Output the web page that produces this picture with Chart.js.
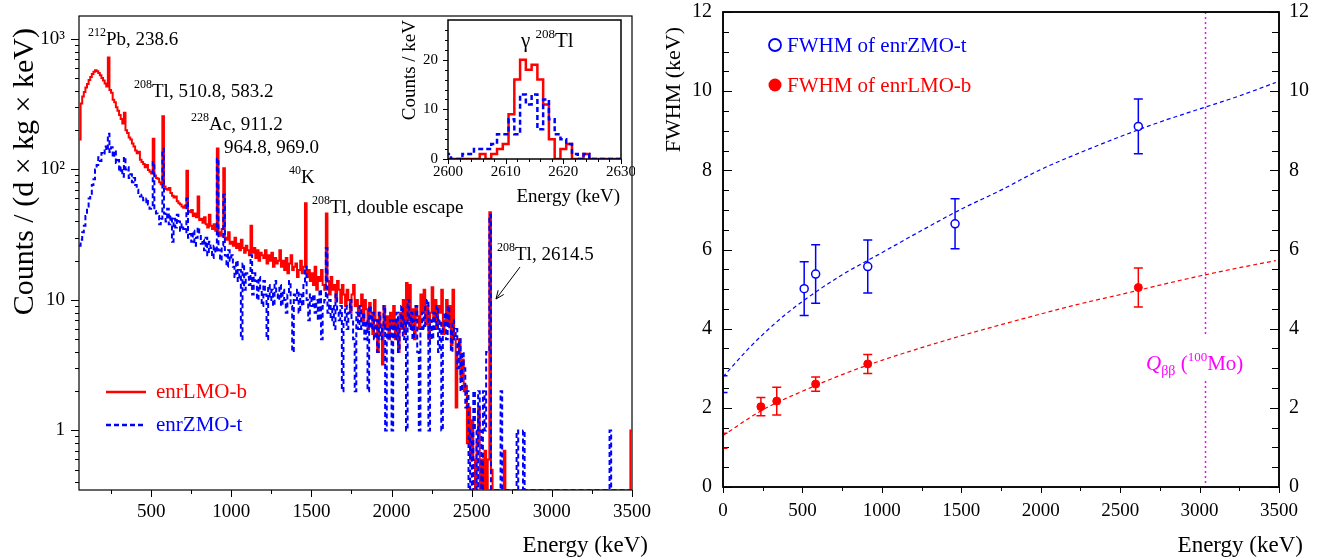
<!DOCTYPE html>
<html>
<head>
<meta charset="utf-8">
<title>Background spectra and FWHM</title>
<script src="https://cdn.jsdelivr.net/npm/chart.js@4.4.1/dist/chart.umd.min.js"></script>
<style>
  html, body { margin:0; padding:0; background:#fff; }
  #stage { position:relative; width:1318px; height:558px; background:#fff; overflow:hidden; }
  #stage canvas { position:absolute; }
</style>
</head>
<body>
<div id="stage">
  <canvas id="spec" width="660" height="558" style="left:0;top:0"></canvas>
  <canvas id="fwhm" width="658" height="558" style="left:660px;top:0"></canvas>
  <canvas id="inset" width="240" height="215" style="left:395px;top:0"></canvas>
</div>
<script>
// ---------------- DATA ----------------
// Left panel: background spectra, 10 keV bins starting at 50 keV (counts/(d x kg x keV))
const specBinStart = 50;
const specBinWidth = 10;
const lmoRate = [
  170, 320, 362, 392, 424,
  452, 484, 512, 538, 560, 575, 566, 548, 528, 503,
  480, 456, 432, 720, 406, 388, 342, 328, 300, 282,
  262, 244, 225, 272, 200, 190, 176, 170, 158, 150,
  140, 133, 137, 119, 114, 110, 104, 108, 99, 96,
  93, 172, 90, 86, 85, 80, 77, 256, 74, 71,
  70, 72, 66, 63, 61, 62, 57, 55, 54, 52,
  51, 53, 98, 48, 47, 49, 44, 46, 43, 62,
  41, 42, 39, 43, 38, 36, 45, 37, 35, 38,
  34, 145, 33, 31, 35, 102, 30, 29, 33, 27,
  28, 26, 30, 25, 27, 24, 29, 25, 23, 26,
  24, 22, 37, 23, 25, 21, 24, 20, 23, 22,
  21, 24, 19, 22, 20, 23, 18, 21, 19, 20,
  24, 18, 20, 17, 21, 16, 19, 22, 17, 18,
  19, 15, 17, 20, 16, 18, 55, 15, 17, 14,
  16, 13, 18, 12, 15, 14, 17, 13, 12, 46,
  14, 11, 15, 12, 13, 10, 14, 12, 9.5, 13,
  11, 9, 12, 10, 8, 11, 13, 9, 10, 7.5,
  9, 11, 7, 10, 8.5, 6, 9.5, 8, 5.5, 10,
  7, 4, 8, 6.5, 3.2, 9, 6, 7.5, 5, 8,
  6.5, 9, 5, 7, 4, 8, 6, 10, 5.5, 13.5,
  7, 13, 6, 8.5, 5, 9, 7.5, 6, 11, 8,
  12, 6.5, 9, 5, 8, 12.5, 7, 10, 6, 9,
  8, 12, 5.5, 7, 10, 6.5, 9, 4.5, 12, 5,
  1.5, 4, 5, 2.5, 3.5, 2, 2.2, 0.8, 1.5, 0.6,
  1.2, 0.6, 0, 0.8, 1.5, 0, 0.6, 0, 0.7, 0,
  0.6, 47, 0.5, 0, 0, 0, 0, 0, 0, 0,
  0.7, 0, 0, 0, 0, 0, 0, 0, 0, 0,
  0, 0, 0, 0, 0, 0, 0, 0, 0, 0,
  0, 0, 0, 0, 0, 0, 0, 0, 0, 0,
  0, 0, 0, 0, 0, 0, 0, 0, 0, 0,
  0, 0, 0, 0, 0, 0, 0, 0, 0, 0,
  0, 0, 0, 0, 0, 0, 0, 0, 0, 0,
  0, 0, 0, 0, 0, 0, 0, 0, 0, 0,
  0, 0, 0, 0, 0, 0, 0, 0, 0, 1
];
const zmoRate = [
  26, 29, 33, 37, 44,
  52, 60, 64, 76, 84, 100, 108, 124, 116, 134,
  130, 150, 140, 188, 136, 148, 124, 140, 112, 118,
  96, 104, 88, 125, 100, 104, 86, 92, 80, 86,
  76, 70, 66, 62, 64, 58, 56, 60, 54, 50,
  52, 114, 48, 46, 44, 38, 42, 144, 46, 40,
  50, 38, 44, 28, 42, 36, 45, 40, 34, 38,
  35, 33, 60, 30, 32, 28, 34, 26, 30, 36,
  32, 27, 29, 24, 30, 22, 28, 25, 21, 26,
  23, 121, 24, 20, 26, 64, 22, 18, 24, 20,
  22, 18, 15, 20, 14, 17, 5, 19, 12, 16,
  15, 13, 22, 11, 16, 14, 10, 15, 12, 9,
  14, 11, 5, 13, 10, 12, 9, 14, 11, 10,
  13, 9, 12, 10, 8, 11, 14, 9, 4, 11,
  10, 12, 8, 11, 9, 13, 18, 10, 7, 11,
  9, 11, 8, 10, 7, 12, 5, 9, 10, 25,
  8, 10, 7, 9, 6, 11, 8, 7, 9, 2,
  7, 9, 6, 8, 10, 7, 5, 2, 8, 6,
  9, 6, 8, 5, 7, 2, 9, 6, 8, 5,
  7, 4, 8, 5, 6, 9, 1, 6, 5, 7,
  1, 7, 5, 8, 4, 6, 9, 5, 7, 1,
  10, 6, 8, 5, 7, 9, 4, 1, 6, 8,
  6, 9, 10, 1, 7, 5, 8, 6, 9, 4,
  7, 1, 6, 8, 5, 9, 6, 4, 7, 5,
  6, 3, 5, 2, 4, 3, 1.5, 2, 0, 1,
  0, 2, 1, 0, 2, 1, 0, 2, 1, 4,
  4, 45, 0, 0, 0, 0, 0, 0, 2, 0,
  0, 0, 0, 0, 0, 0, 0, 0, 1, 0,
  0, 0, 1, 0, 0, 0, 0, 0, 0, 0,
  0, 0, 0, 0, 0, 0, 0, 0, 0, 0,
  0, 0, 0, 0, 0, 0, 0, 0, 0, 0,
  0, 0, 0, 0, 0, 0, 0, 0, 0, 0,
  0, 0, 0, 0, 0, 0, 0, 0, 0, 0,
  0, 0, 0, 0, 0, 0, 1, 0, 0, 0,
  0, 0, 0, 0, 0, 0, 0, 0, 0, 0
];
const specXTicks = [500, 1000, 1500, 2000, 2500, 3000, 3500];
const specYTicks = [1, 10, 100, 1000];
const specYTickLabels = ['1', '10', '10\u00B2', '10\u00B3'];

// Inset: 208Tl 2614.5 keV peak, 1 keV bins centred on 2600 ... 2630 keV (counts/keV)
const insetBinStart = 2599.5;
const insetBinWidth = 1;
const insetLMO = [0,0,0,0,0,0,1,0,1,2,3,9,16,20,18,19,16,11,4,0,2,3,0,0,1,0,0,0,0,0,0];
const insetZMO = [1,0,0,1,1,2,2,2,3,5,5,8,5,13,11,13,6,12,8,5,4,3,1,0,1,0,0,0,0,0,0];
const insetXTicks = [2600, 2610, 2620, 2630];
const insetYTicks = [0, 10, 20];

// Right panel: energy resolution (FWHM, keV)
const zmoEnergy = [511, 583.2, 911.2, 1460.8, 2614.5];
const zmoFWHM   = [5.01, 5.38, 5.57, 6.65, 9.11];
const zmoErr    = [0.68, 0.74, 0.67, 0.63, 0.69];
const lmoEnergy = [238.6, 338.3, 583.2, 911.2, 2614.5];
const lmoFWHM   = [2.03, 2.17, 2.60, 3.11, 5.04];
const lmoErr    = [0.23, 0.35, 0.18, 0.24, 0.49];
const baselineEnergy = [0, 0];          // ZMO, LMO noise (FWHM at 0 keV)
const baselineFWHM   = [2.60, 1.17];
const baselineErr    = [0.21, 0.19];
const zmoFitEnergy = [0, 150, 250, 400, 600, 750, 1000, 1250, 1500, 1750, 2000, 2250, 2500, 2750, 3000, 3250, 3480];
const zmoFitFWHM   = [2.78, 3.45, 3.85, 4.38, 4.97, 5.36, 5.92, 6.48, 7.02, 7.5, 8.02, 8.45, 8.85, 9.22, 9.55, 9.88, 10.22];
const lmoFitEnergy = [0, 250, 500, 750, 1000, 1250, 1500, 1750, 2000, 2250, 2500, 2750, 3000, 3250, 3480];
const lmoFitFWHM   = [1.3, 1.95, 2.42, 2.84, 3.2, 3.52, 3.82, 4.1, 4.37, 4.63, 4.86, 5.1, 5.33, 5.54, 5.72];
const qbbEnergy = 3034;
const fwhmXTicks = [0, 500, 1000, 1500, 2000, 2500, 3000, 3500];
const fwhmYTicks = [0, 2, 4, 6, 8, 10, 12];

// ---------------- HELPERS ----------------
const FONT = '"Liberation Serif", "Times New Roman", serif';
const RED = '#ff0000', BLUE = '#0000ff', MAGENTA = '#ff00ff';
Chart.defaults.font.family = FONT;
Chart.defaults.color = '#000';

function histPoints(start, width, values, floor) {
  const pts = values.map((v, i) => ({ x: start + i * width, y: v > 0 ? v : floor }));
  const last = values[values.length - 1];
  pts.push({ x: start + values.length * width, y: last > 0 ? last : floor });
  return pts;
}
function pairs(xs, ys) { return xs.map((x, i) => ({ x: x, y: ys[i] })); }

function richText(ctx, x, y, parts, size, color) {
  ctx.save();
  ctx.fillStyle = color;
  ctx.textBaseline = 'alphabetic';
  ctx.textAlign = 'left';
  let cx = x;
  parts.forEach(([t, m]) => {
    let fs = size, dy = 0, st = '';
    if (m === 'sup') { fs = Math.round(size * 0.62); dy = -size * 0.45; }
    else if (m === 'sub') { fs = Math.round(size * 0.66); dy = size * 0.25; }
    else if (m === 'it') { st = 'italic '; }
    ctx.font = st + fs + 'px ' + FONT;
    ctx.fillText(t, cx, y + dy);
    cx += ctx.measureText(t).width;
  });
  ctx.restore();
}
function vText(ctx, text, x, yEnd, size, color) {
  ctx.save();
  ctx.translate(x, yEnd);
  ctx.rotate(-Math.PI / 2);
  ctx.font = size + 'px ' + FONT;
  ctx.fillStyle = color;
  ctx.textAlign = 'right';
  ctx.textBaseline = 'alphabetic';
  ctx.fillText(text, 0, 0);
  ctx.restore();
}
function hText(ctx, text, x, y, size, color, align) {
  ctx.save();
  ctx.font = size + 'px ' + FONT;
  ctx.fillStyle = color;
  ctx.textAlign = align || 'left';
  ctx.textBaseline = 'alphabetic';
  ctx.fillText(text, x, y);
  ctx.restore();
}
function frame(ctx, a, color, lw) {
  ctx.save();
  ctx.strokeStyle = color; ctx.lineWidth = lw;
  ctx.strokeRect(a.left, a.top, a.right - a.left, a.bottom - a.top);
  ctx.restore();
}
function xTickMarks(ctx, scale, y, values, len, dir) {
  ctx.beginPath();
  values.forEach(v => {
    const p = Math.round(scale.getPixelForValue(v)) + 0.5;
    ctx.moveTo(p, y); ctx.lineTo(p, y + dir * len);
  });
  ctx.stroke();
}
function yTickMarks(ctx, scale, x, values, len, dir) {
  ctx.beginPath();
  values.forEach(v => {
    const p = Math.round(scale.getPixelForValue(v)) + 0.5;
    ctx.moveTo(x, p); ctx.lineTo(x + dir * len, p);
  });
  ctx.stroke();
}
function fixedBox(w, h) {
  return function (s) {
    if (w !== null) s.width = w;
    if (h !== null) s.height = h;
    s.paddingLeft = 0; s.paddingRight = 0; s.paddingTop = 0; s.paddingBottom = 0;
  };
}
const noGrid = { display: false, drawTicks: false };
const noBorder = { display: false };

// ---------------- LEFT: SPECTRA ----------------
const specDecor = {
  id: 'specDecor',
  beforeDatasetsDraw(chart) {
    const ctx = chart.ctx, a = chart.chartArea;
    const xs = chart.scales.x, ys = chart.scales.y;
    ctx.save();
    ctx.strokeStyle = '#000'; ctx.lineWidth = 1;
    frame(ctx, a, '#000', 1.2);
    xTickMarks(ctx, xs, a.bottom, specXTicks, 7, 1);
    const minorX = [];
    for (let v = 250; v < 3500; v += 500) minorX.push(v);
    xTickMarks(ctx, xs, a.bottom, minorX, 4, 1);
    yTickMarks(ctx, ys, a.left, specYTicks, 8, -1);
    const minorY = [];
    [0.1, 1, 10, 100].forEach(d => { for (let m = 2; m <= 9; m++) { const v = d * m; if (v > ys.min && v < ys.max) minorY.push(v); } });
    yTickMarks(ctx, ys, a.left, minorY, 4, -1);
    ctx.restore();
  },
  afterDatasetsDraw(chart) {
    const ctx = chart.ctx;
    const S = 19;
    richText(ctx, 88, 45, [['212', 'sup'], ['Pb, 238.6', '']], S, '#000');
    richText(ctx, 134, 97, [['208', 'sup'], ['Tl, 510.8, 583.2', '']], S, '#000');
    richText(ctx, 191, 130, [['228', 'sup'], ['Ac, 911.2', '']], S, '#000');
    richText(ctx, 224, 153, [['964.8, 969.0', '']], S, '#000');
    richText(ctx, 289, 183, [['40', 'sup'], ['K', '']], S, '#000');
    richText(ctx, 312, 213, [['208', 'sup'], ['Tl, double escape', '']], S, '#000');
    richText(ctx, 497, 260, [['208', 'sup'], ['Tl, 2614.5', '']], S, '#000');
    ctx.save();
    ctx.strokeStyle = '#000'; ctx.lineWidth = 1;
    const x1 = 520, y1 = 267, x2 = 496, y2 = 299;
    ctx.beginPath(); ctx.moveTo(x1, y1); ctx.lineTo(x2, y2); ctx.stroke();
    const ang = Math.atan2(y2 - y1, x2 - x1), hl = 9;
    ctx.beginPath();
    ctx.moveTo(x2 - hl * Math.cos(ang - 0.4), y2 - hl * Math.sin(ang - 0.4));
    ctx.lineTo(x2, y2);
    ctx.lineTo(x2 - hl * Math.cos(ang + 0.4), y2 - hl * Math.sin(ang + 0.4));
    ctx.stroke();
    ctx.lineWidth = 2.5; ctx.strokeStyle = RED;
    ctx.beginPath(); ctx.moveTo(106, 392); ctx.lineTo(146, 392); ctx.stroke();
    ctx.strokeStyle = BLUE; ctx.setLineDash([5, 3]);
    ctx.beginPath(); ctx.moveTo(106, 425); ctx.lineTo(146, 425); ctx.stroke();
    ctx.setLineDash([]);
    ctx.restore();
    hText(ctx, 'enrLMO-b', 156, 398, 21, RED);
    hText(ctx, 'enrZMO-t', 156, 431, 21, BLUE);
    hText(ctx, 'Energy (keV)', 648, 552, 23, '#000', 'right');
    vText(ctx, 'Counts / (d \u00D7 kg \u00D7 keV)', 33, 28, 30, '#000');
  }
};

new Chart(document.getElementById('spec'), {
  type: 'line',
  data: {
    datasets: [
      { label: 'enrZMO-t', data: histPoints(specBinStart, specBinWidth, zmoRate, 0.35),
        borderColor: BLUE, borderWidth: 2, borderDash: [5, 3], stepped: 'before',
        pointRadius: 0, fill: false, order: 0 },
      { label: 'enrLMO-b', data: histPoints(specBinStart, specBinWidth, lmoRate, 0.35),
        borderColor: RED, borderWidth: 2, stepped: 'before',
        pointRadius: 0, fill: false, order: 1 }
    ]
  },
  options: {
    responsive: false, animation: false, events: [],
    layout: { padding: { left: 0, right: 28, top: 16, bottom: 0 } },
    plugins: { legend: { display: false }, tooltip: { enabled: false }, title: { display: false } },
    scales: {
      x: {
        type: 'linear', min: 50, max: 3500,
        afterBuildTicks: s => { s.ticks = specXTicks.map(v => ({ value: v })); },
        afterFit: fixedBox(null, 68),
        grid: noGrid, border: noBorder,
        ticks: { font: { size: 19 }, color: '#000', padding: 11, maxRotation: 0, minRotation: 0, autoSkip: false,
                 callback: v => String(v) }
      },
      y: {
        type: 'logarithmic', min: 0.35, max: 1500,
        afterBuildTicks: s => { s.ticks = specYTicks.map(v => ({ value: v })); },
        afterFit: fixedBox(79, null),
        grid: noGrid, border: noBorder,
        ticks: { font: { size: 19 }, color: '#000', padding: 14, autoSkip: false,
                 callback: v => { const i = specYTicks.indexOf(v); return i >= 0 ? specYTickLabels[i] : ''; } }
      }
    }
  },
  plugins: [specDecor]
});

// ---------------- INSET ----------------
const insetDecor = {
  id: 'insetDecor',
  beforeDatasetsDraw(chart) {
    const ctx = chart.ctx, a = chart.chartArea;
    const xs = chart.scales.x, ys = chart.scales.y;
    ctx.save();
    ctx.strokeStyle = '#000'; ctx.lineWidth = 1;
    xTickMarks(ctx, xs, a.bottom, insetXTicks, 5, 1);
    const minorX = []; for (let v = 2602; v < 2630; v += 2) if (v % 10) minorX.push(v);
    xTickMarks(ctx, xs, a.bottom, minorX, 3, 1);
    yTickMarks(ctx, ys, a.left, insetYTicks, 5, -1);
    const minorY = []; for (let v = 2; v < 28; v += 2) if (v % 10) minorY.push(v);
    yTickMarks(ctx, ys, a.left, minorY, 3, -1);
    ctx.restore();
  },
  afterDatasetsDraw(chart) {
    const ctx = chart.ctx, a = chart.chartArea;
    frame(ctx, a, '#000', 1.5);
    richText(ctx, 126, 47, [['\u03B3 ', ''], ['208', 'sup'], ['Tl', '']], 21, '#000');
    vText(ctx, 'Counts / keV', 20, 20, 19, '#000');
    hText(ctx, 'Energy (keV)', 225, 202, 19, '#000', 'right');
  }
};
new Chart(document.getElementById('inset'), {
  type: 'line',
  data: {
    datasets: [
      { label: 'enrZMO-t', data: histPoints(insetBinStart, insetBinWidth, insetZMO, 0),
        borderColor: BLUE, borderWidth: 2.5, borderDash: [5, 3], stepped: 'before', pointRadius: 0, order: 0 },
      { label: 'enrLMO-b', data: histPoints(insetBinStart, insetBinWidth, insetLMO, 0),
        borderColor: RED, borderWidth: 2.5, stepped: 'before', pointRadius: 0, order: 1 }
    ]
  },
  options: {
    responsive: false, animation: false, events: [],
    layout: { padding: { left: 0, right: 14, top: 20, bottom: 0 } },
    plugins: { legend: { display: false }, tooltip: { enabled: false } },
    scales: {
      x: {
        type: 'linear', min: 2600, max: 2630,
        afterBuildTicks: s => { s.ticks = insetXTicks.map(v => ({ value: v })); },
        afterFit: fixedBox(null, 56),
        grid: noGrid, border: noBorder,
        ticks: { font: { size: 15 }, color: '#000', padding: 4, maxRotation: 0, minRotation: 0, autoSkip: false,
                 callback: v => String(v) }
      },
      y: {
        type: 'linear', min: 0, max: 28,
        afterBuildTicks: s => { s.ticks = insetYTicks.map(v => ({ value: v })); },
        afterFit: fixedBox(53, null),
        grid: noGrid, border: noBorder,
        ticks: { font: { size: 15 }, color: '#000', padding: 10, autoSkip: false, callback: v => String(v) }
      }
    }
  },
  plugins: [insetDecor]
});

// ---------------- RIGHT: FWHM ----------------
function errorBars(ctx, chart, xs, ys, errs, color, gap) {
  const sx = chart.scales.x, sy = chart.scales.y;
  ctx.save();
  ctx.strokeStyle = color; ctx.lineWidth = 1.5;
  xs.forEach((e, i) => {
    const px = sx.getPixelForValue(e);
    const pc = sy.getPixelForValue(ys[i]);
    const pt = sy.getPixelForValue(ys[i] + errs[i]);
    const pb = sy.getPixelForValue(ys[i] - errs[i]);
    ctx.beginPath();
    ctx.moveTo(px, pt); ctx.lineTo(px, pc - gap);
    ctx.moveTo(px, pc + gap); ctx.lineTo(px, pb);
    ctx.moveTo(px - 4.5, pt); ctx.lineTo(px + 4.5, pt);
    ctx.moveTo(px - 4.5, pb); ctx.lineTo(px + 4.5, pb);
    ctx.stroke();
  });
  ctx.restore();
}
const fwhmDecor = {
  id: 'fwhmDecor',
  beforeDatasetsDraw(chart) {
    const ctx = chart.ctx, a = chart.chartArea;
    const xs = chart.scales.x, ys = chart.scales.y;
    ctx.save();
    ctx.strokeStyle = '#000'; ctx.lineWidth = 1;
    xTickMarks(ctx, xs, a.bottom, fwhmXTicks, 6, 1);
    const minorX = []; for (let v = 250; v < 3500; v += 500) minorX.push(v);
    xTickMarks(ctx, xs, a.bottom, minorX, 4, 1);
    const minorY = []; for (let v = 0.5; v < 12; v += 0.5) if (v % 2) minorY.push(v);
    yTickMarks(ctx, ys, a.left, fwhmYTicks, 9, 1);
    yTickMarks(ctx, ys, a.left, minorY, 6, 1);
    yTickMarks(ctx, ys, a.right, fwhmYTicks, 9, -1);
    yTickMarks(ctx, ys, a.right, minorY, 7, -1);
    const qx = Math.round(xs.getPixelForValue(qbbEnergy)) + 0.5;
    ctx.strokeStyle = MAGENTA; ctx.lineWidth = 1.5; ctx.setLineDash([2, 3]);
    ctx.beginPath();
    ctx.moveTo(qx, a.top); ctx.lineTo(qx, 337);
    ctx.moveTo(qx, 381); ctx.lineTo(qx, a.bottom);
    ctx.stroke();
    ctx.setLineDash([]);
    ctx.restore();
    frame(ctx, a, '#000', 1.5);
  },
  afterDatasetsDraw(chart) {
    const ctx = chart.ctx, a = chart.chartArea;
    errorBars(ctx, chart, zmoEnergy, zmoFWHM, zmoErr, BLUE, 4);
    errorBars(ctx, chart, lmoEnergy, lmoFWHM, lmoErr, RED, 0);
    ctx.save();
    ctx.beginPath(); ctx.rect(a.left, a.top, a.right - a.left, a.bottom - a.top); ctx.clip();
    errorBars(ctx, chart, [baselineEnergy[0]], [baselineFWHM[0]], [baselineErr[0]], BLUE, 0);
    errorBars(ctx, chart, [baselineEnergy[1]], [baselineFWHM[1]], [baselineErr[1]], RED, 0);
    ctx.restore();
    frame(ctx, a, '#000', 1.5);
    ctx.save();
    ctx.strokeStyle = BLUE; ctx.lineWidth = 1.8;
    ctx.beginPath(); ctx.arc(115, 45, 6, 0, Math.PI * 2); ctx.stroke();
    ctx.fillStyle = RED;
    ctx.beginPath(); ctx.arc(115, 85, 6.5, 0, Math.PI * 2); ctx.fill();
    ctx.restore();
    hText(ctx, 'FWHM of enrZMO-t', 127, 52, 21, BLUE);
    hText(ctx, 'FWHM of enrLMO-b', 127, 92, 21, RED);
    richText(ctx, 486, 370, [['Q', 'it'], ['\u03B2\u03B2', 'sub'], [' (', ''], ['100', 'sup'], ['Mo)', '']], 21, MAGENTA);
    hText(ctx, 'Energy (keV)', 643, 552, 23, '#000', 'right');
    vText(ctx, 'FWHM (keV)', 20, 27, 22, '#000');
  }
};
new Chart(document.getElementById('fwhm'), {
  type: 'line',
  data: {
    datasets: [
      { label: 'fit enrZMO-t', data: pairs(zmoFitEnergy, zmoFitFWHM), borderColor: BLUE, borderWidth: 1.2,
        borderDash: [4, 3], pointRadius: 0, cubicInterpolationMode: 'monotone', fill: false, order: 3 },
      { label: 'fit enrLMO-b', data: pairs(lmoFitEnergy, lmoFitFWHM), borderColor: RED, borderWidth: 1.2,
        borderDash: [4, 3], pointRadius: 0, cubicInterpolationMode: 'monotone', fill: false, order: 2 },
      { label: 'FWHM of enrZMO-t', data: pairs(zmoEnergy, zmoFWHM), showLine: false, pointStyle: 'circle',
        pointRadius: 4, pointBorderWidth: 1.5, borderColor: BLUE, backgroundColor: 'rgba(0,0,0,0)', order: 1 },
      { label: 'FWHM of enrLMO-b', data: pairs(lmoEnergy, lmoFWHM), showLine: false, pointStyle: 'circle',
        pointRadius: 4, pointBorderWidth: 1, borderColor: RED, backgroundColor: RED, order: 0 }
    ]
  },
  options: {
    responsive: false, animation: false, events: [],
    layout: { padding: { left: 0, right: 0, top: 12, bottom: 0 } },
    plugins: { legend: { display: false }, tooltip: { enabled: false } },
    scales: {
      x: {
        type: 'linear', min: 0, max: 3500,
        afterBuildTicks: s => { s.ticks = fwhmXTicks.map(v => ({ value: v })); },
        afterFit: fixedBox(null, 71),
        grid: noGrid, border: noBorder,
        ticks: { font: { size: 19 }, color: '#000', padding: 13, maxRotation: 0, minRotation: 0, autoSkip: false,
                 callback: v => String(v) }
      },
      y: {
        type: 'linear', position: 'left', min: 0, max: 12,
        afterBuildTicks: s => { s.ticks = fwhmYTicks.map(v => ({ value: v })); },
        afterFit: fixedBox(63, null),
        grid: noGrid, border: noBorder,
        ticks: { font: { size: 20 }, color: '#000', padding: 11, autoSkip: false, callback: v => String(v) }
      },
      y2: {
        type: 'linear', position: 'right', min: 0, max: 12,
        afterBuildTicks: s => { s.ticks = fwhmYTicks.map(v => ({ value: v })); },
        afterFit: fixedBox(39, null),
        grid: noGrid, border: noBorder,
        ticks: { font: { size: 20 }, color: '#000', padding: 10, autoSkip: false, callback: v => String(v) }
      }
    }
  },
  plugins: [fwhmDecor]
});
</script>
</body>
</html>
